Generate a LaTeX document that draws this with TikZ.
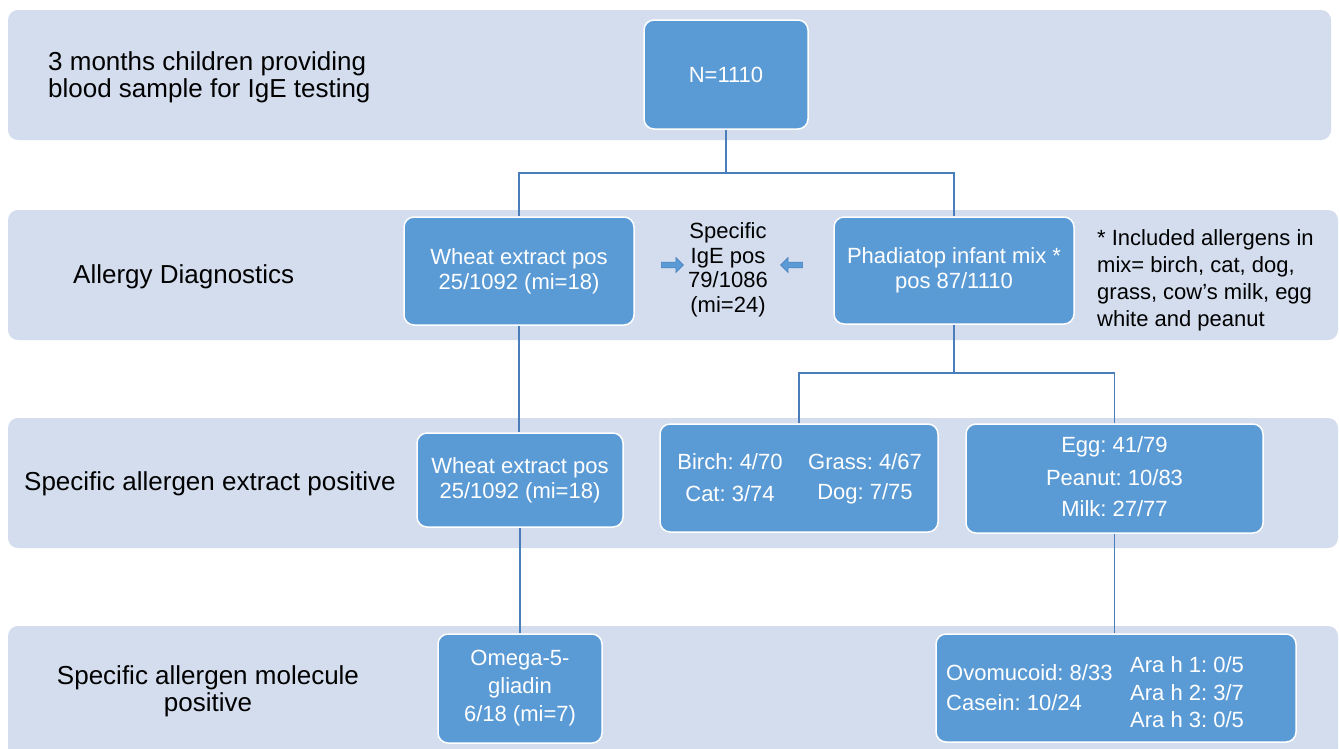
\documentclass[tikz,border=0pt]{standalone}
\usepackage{fontspec}
\setmainfont{Liberation Sans}
\usetikzlibrary{shapes.arrows}
\definecolor{bandc}{HTML}{D3DDEE}
\definecolor{boxc}{HTML}{5B9BD5}
\definecolor{linec}{HTML}{4A7EBB}
\definecolor{arrc}{HTML}{5B9BD5}
\begin{document}
\frenchspacing
\begin{tikzpicture}[x=1pt,y=-1pt,
  band/.style={fill=bandc,rounded corners=10pt},
  bx/.style={fill=boxc,draw=white,line width=1.5pt,rounded corners=10pt,inner sep=0pt,
    font=\fontsize{22}{25}\selectfont,text=white,align=center},
  tw/.style={text=white,inner sep=0pt,font=\fontsize{22}{25}\selectfont},
  lab/.style={inner sep=0pt,font=\fontsize{26}{27}\selectfont,text=black},
  note/.style={inner sep=0pt,font=\fontsize{22}{27}\selectfont,text=black},
  conn/.style={draw=linec,line width=1.5pt},
  sarrow/.style={single arrow,fill=arrc,draw=linec,line width=0.6pt,minimum height=22pt,
    minimum width=15pt,single arrow head extend=3pt,inner sep=1.5pt}]
\useasboundingbox (0,0) rectangle (1339,748);
\fill[white] (0,0) rectangle (1339,748);
% bands
\path[band] (8,10) rectangle (1331,140);
\path[band] (8,210) rectangle (1338,340);
\path[band] (8,418) rectangle (1338,548);
\path[band] (8,626) rectangle (1338,760);
% left labels
\node[lab,anchor=west,align=left] (l1) at (48,77) {3 months children providing\\blood sample for IgE testing};
\node[lab,anchor=west] (l2) at (73,277) {Allergy Diagnostics};
\node[lab,anchor=west] (l3) at (24,484) {Specific allergen extract positive};
\node[lab,align=center] (l4) at (208,691) {Specific allergen molecule\\positive};
% row 1
\node[bx,minimum width=164pt,minimum height=109pt] (n) at (726,74.5) {N=1110};
% row 2
\node[bx,minimum width=230pt,minimum height=108pt] (wheat) at (519,271) {Wheat extract pos\\25/1092 (mi=18)};
\node[bx,minimum width=240pt,minimum height=107pt] (phad) at (954,270.5) {Phadiatop infant mix *\\pos 87/1110};
\node[note,align=center,font=\fontsize{22}{24.5}\selectfont] (sige) at (728,270) {Specific\\IgE pos\\79/1086\\(mi=24)};
\node[sarrow] (ar1) at (671,265) {};
\node[sarrow,shape border rotate=180] (ar2) at (793,265) {};
\node[note,anchor=north west,align=left] (note) at (1097,229) {* Included allergens in\\mix= birch, cat, dog,\\grass, cow’s milk, egg\\white and peanut};
% row 3
\node[bx,minimum width=206pt,minimum height=94pt] (wheat2) at (520,480) {Wheat extract pos\\25/1092 (mi=18)};
\node[bx,minimum width=278pt,minimum height=108pt] (birch) at (799,478) {};
\node[tw] (b1) at (730,462) {Birch: 4/70};
\node[tw] (b2) at (865,462) {Grass: 4/67};
\node[tw] (b3) at (730,494) {Cat: 3/74};
\node[tw] (b4) at (865,494) {Dog: 7/75};
\node[bx,minimum width=297pt,minimum height=109pt] (egg) at (1114.5,478.5) {};
\node[tw] (e1) at (1114.5,447) {Egg: 41/79};
\node[tw] (e2) at (1114.5,478) {Peanut: 10/83};
\node[tw] (e3) at (1114.5,509) {Milk: 27/77};
% row 4
\node[bx,minimum width=164pt,minimum height=109pt,font=\fontsize{22}{28}\selectfont] (omega) at (520,688.5) {Omega-5-\\gliadin\\6/18 (mi=7)};
\node[bx,minimum width=360pt,minimum height=108pt] (mol) at (1116,688) {};
\node[tw,anchor=west] (m1) at (946,673) {Ovomucoid: 8/33};
\node[tw,anchor=west] (m2) at (946,703) {Casein: 10/24};
\node[tw,anchor=west] (m3) at (1130,665) {Ara h 1: 0/5};
\node[tw,anchor=west] (m4) at (1130,693) {Ara h 2: 3/7};
\node[tw,anchor=west] (m5) at (1130,720) {Ara h 3: 0/5};
% connectors
\coordinate (j1) at (726,173);
\coordinate (j2) at (954,373);
\draw[conn] (n.south) -- (j1) -| (wheat.north);
\draw[conn] (j1) -| (phad.north);
\draw[conn] (wheat.south) -- (wheat.south |- wheat2.north);
\draw[conn] (wheat2.south) -- (omega.north);
\draw[conn] (phad.south) -- (j2) -| (birch.north);
\draw[conn] (j2) -| (egg.north);
\draw[conn] (egg.south) -- (egg.south |- mol.north);
\end{tikzpicture}
\end{document}
